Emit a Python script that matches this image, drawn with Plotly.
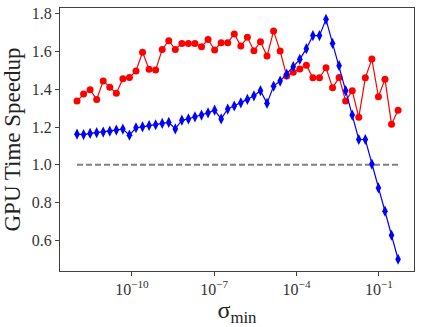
"""GPU time speedup versus sigma_min, two solver variants."""

import numpy as np
import plotly.graph_objects as go

# sigma_min grid: 50 log-spaced values from 1e-12 to ~0.5
sigma_min = np.logspace(-12, -0.3, 50)

speedup_red = [
    1.337, 1.374, 1.397, 1.346, 1.443, 1.410, 1.378, 1.455, 1.462, 1.496,
    1.595, 1.505, 1.501, 1.610, 1.656, 1.610, 1.642, 1.642, 1.642, 1.624,
    1.663, 1.607, 1.646, 1.646, 1.692, 1.628, 1.674, 1.603, 1.651, 1.575,
    1.707, 1.602, 1.469, 1.489, 1.506, 1.527, 1.460, 1.460, 1.513, 1.407,
    1.462, 1.337, 1.392, 1.251, 1.460, 1.559, 1.360, 1.453, 1.214, 1.289,
]

speedup_blue = [
    1.162, 1.160, 1.166, 1.170, 1.173, 1.178, 1.184, 1.189, 1.157, 1.196,
    1.201, 1.208, 1.212, 1.219, 1.224, 1.190, 1.236, 1.243, 1.254, 1.263,
    1.275, 1.289, 1.243, 1.295, 1.311, 1.328, 1.346, 1.365, 1.392, 1.325,
    1.416, 1.443, 1.480, 1.519, 1.558, 1.614, 1.683, 1.683, 1.769, 1.642,
    1.524, 1.392, 1.263, 1.134, 1.134, 1.004, 0.878, 0.755, 0.628, 0.501,
]

baseline = 1.0

x_tickvals = [1e-10, 1e-7, 1e-4, 1e-1]
x_ticktext = ["10<sup>\u221210</sup>", "10<sup>\u22127</sup>",
              "10<sup>\u22124</sup>", "10<sup>\u22121</sup>"]
y_tickvals = [0.6, 0.8, 1.0, 1.2, 1.4, 1.6, 1.8]

FONT = "Liberation Serif, DejaVu Serif, serif"

fig = go.Figure()

fig.add_trace(go.Scatter(
    x=[sigma_min[0], sigma_min[-1]],
    y=[baseline, baseline],
    mode="lines",
    line=dict(color="#808080", width=2, dash="6px,3px"),
    showlegend=False,
))

fig.add_trace(go.Scatter(
    x=sigma_min,
    y=speedup_red,
    mode="lines+markers",
    line=dict(color="#ff0000", width=1.2),
    marker=dict(symbol="circle", size=7, color="#ff0000"),
    showlegend=False,
))

fig.add_trace(go.Scatter(
    x=sigma_min,
    y=speedup_blue,
    mode="lines+markers",
    line=dict(color="#0000ff", width=1.2),
    marker=dict(symbol="diamond-tall", size=8, color="#0000ff"),
    showlegend=False,
))

axis_common = dict(
    showgrid=False,
    zeroline=False,
    showline=True,
    linecolor="#404040",
    linewidth=1,
    mirror=True,
    ticks="outside",
    ticklen=4,
    tickcolor="#404040",
    tickfont=dict(family=FONT, size=16, color="#333333"),
    automargin=False,
)

fig.update_xaxes(
    type="log",
    range=[-12.62, 0.28],
    tickvals=x_tickvals,
    ticktext=x_ticktext,
    title=dict(text="\u03c3<sub>min</sub>", font=dict(family=FONT, size=24, color="#222222"), standoff=2),
    **axis_common,
)

fig.update_yaxes(
    range=[0.439, 1.829],
    tickvals=y_tickvals,
    ticktext=[f"{v:.1f}" for v in y_tickvals],
    title=dict(text="GPU Time Speedup", font=dict(family=FONT, size=23, color="#222222"), standoff=4),
    **axis_common,
)

fig.update_layout(
    width=421,
    height=327,
    margin=dict(l=60, r=7, t=8, b=56),
    plot_bgcolor="white",
    paper_bgcolor="white",
)

# drop the default 8px body margin so the figure fills the window
fig.write_html(
    "out.html",
    config={"displayModeBar": False},
    post_script="document.body.style.margin='0px';",
)
